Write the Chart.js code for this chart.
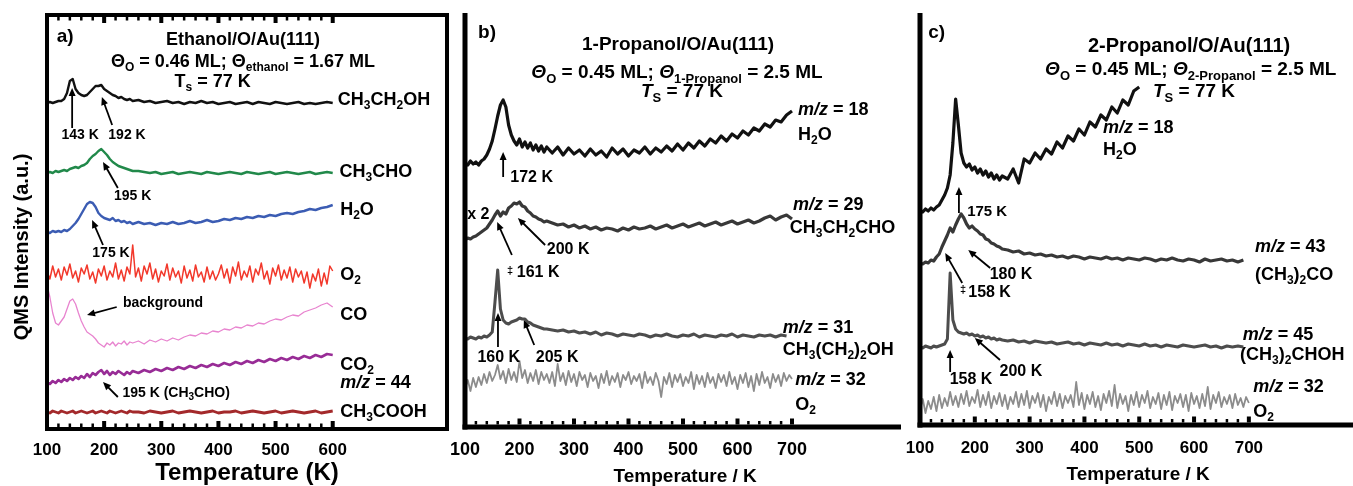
<!DOCTYPE html>
<html>
<head>
<meta charset="utf-8">
<script src="https://cdn.jsdelivr.net/npm/chart.js@4.4.1/dist/chart.umd.min.js"></script>
<style>
  body { margin: 0; background: #fff; width: 1353px; height: 486px; overflow: hidden; position: relative; }
  canvas { position: absolute; top: 0; }
  #ca { left: 0; }
  #cb { left: 450px; }
  #cc { left: 903px; }
</style>
</head>
<body>
<canvas id="ca" width="450" height="486"></canvas>
<canvas id="cb" width="453" height="486"></canvas>
<canvas id="cc" width="450" height="486"></canvas>
<script>
// temperatures (K)
const tempA = [100,105,110,115,120,125,130,135,140,145,150,155,160,165,170,175,180,185,190,195,200,205,210,215,220,225,230,235,240,245,250,
  260,270,280,290,300,310,320,330,340,350,360,370,380,390,400,410,420,430,440,450,460,470,480,490,500,510,520,530,540,550,560,570,580,590,600];
const tempBC = [100,105,110,115,120,125,130,135,140,145,150,155,160,165,170,175,180,185,190,195,200,205,210,215,220,225,230,235,240,245,250,
  260,270,280,290,300,310,320,330,340,350,360,370,380,390,400,410,420,430,440,450,460,470,480,490,500,
  510,520,530,540,550,560,570,580,590,600,610,620,630,640,650,660,670,680,690,700];
// finer grid for the noisy O2 traces
const tempA5 = [100,105,110,115,120,125,130,135,140,145,150,155,160,165,170,175,180,185,190,195,
  200,205,210,215,220,225,230,235,240,245,250,255,260,265,270,275,280,285,290,295,
  300,305,310,315,320,325,330,335,340,345,350,355,360,365,370,375,380,385,390,395,
  400,405,410,415,420,425,430,435,440,445,450,455,460,465,470,475,480,485,490,495,
  500,505,510,515,520,525,530,535,540,545,550,555,560,565,570,575,580,585,590,595,600];
const tempBC5 = [100,105,110,115,120,125,130,135,140,145,150,155,160,165,170,175,180,185,190,195,
  200,205,210,215,220,225,230,235,240,245,250,255,260,265,270,275,280,285,290,295,
  300,305,310,315,320,325,330,335,340,345,350,355,360,365,370,375,380,385,390,395,
  400,405,410,415,420,425,430,435,440,445,450,455,460,465,470,475,480,485,490,495,
  500,505,510,515,520,525,530,535,540,545,550,555,560,565,570,575,580,585,590,595,
  600,605,610,615,620,625,630,635,640,645,650,655,660,665,670,675,680,685,690,695,700];

// a) ethanol, offset traces (a.u.)
const ethanolA = [326,327,326,327,328,328,330,336,348,350,340,336,334,333,334,337,340,343,343,344,340,338,336,334,333,331,332,330,329,330,328,
  329,327,328,326,327,328,326,327,325,327,326,328,326,327,325,326,327,325,326,327,325,327,326,325,327,326,325,326,327,325,326,325,326,327,326];
const acetaldehydeA = [256,257,256,258,257,258,259,258,260,261,262,261,263,264,266,270,273,275,278,280,277,274,270,267,265,263,262,261,260,259,258,
  258,257,256,257,255,256,257,255,256,257,256,255,257,256,255,256,257,256,255,257,256,255,256,257,255,256,257,256,255,256,257,255,256,257,256];
const waterA = [197,196,198,197,198,197,199,198,200,203,206,210,215,220,225,227,226,222,216,213,211,210,209,211,208,209,207,208,206,207,205,
  207,205,206,204,206,205,207,205,206,208,206,207,209,207,208,210,209,211,210,212,211,213,212,214,213,215,216,215,217,218,220,219,221,222,224];
const oxygenA = [158,150,163,152,160,149,162,154,165,151, 158,147,161,155,164,150,157,146,160,153,
  163,149,158,152,166,150,159,148,162,155, 184,152,161,148,163,155,166,150,160,147,
  158,153,165,149,161,152,158,146,163,151, 159,148,164,152,157,147,162,150,158,149,
  155,164,151,160,146,162,153,167,149,158, 152,163,147,160,154,166,150,158,145,161,
  153,164,149,159,151,162,147,160,152,158, 146,157,141,155,148,160,143,156,145,163, 158];
const coA = [144,132,116,106,104,108,112,120,128,130,125,116,108,102,97,95,93,90,86,84,82,86,84,87,83,86,85,88,84,87,86,
  88,85,89,87,90,88,91,89,92,94,93,96,95,98,97,100,99,102,101,104,103,106,105,108,110,109,112,114,113,117,119,121,124,126,122];
const co2A = [47,45,48,46,49,47,50,48,51,49,52,50,53,51,55,52,56,54,57,59,55,58,54,57,55,58,56,54,57,55,58,
  56,59,57,60,58,61,59,62,60,63,61,64,62,65,63,66,64,67,65,68,66,69,67,70,68,71,69,72,70,73,71,74,72,75,74];
const aceticA = [17,16,18,17,16,18,17,16,17,18,16,17,18,17,16,17,18,16,17,18,17,16,18,17,16,17,18,17,16,18,17,
  17,16,18,17,16,17,18,16,17,18,17,16,17,18,16,17,17,18,16,17,18,17,16,17,18,16,17,18,17,16,17,18,16,17,18];

// b) 1-propanol
const waterB = [264,262,266,263,265,262,266,268,272,278,286,298,311,322,327,320,302,292,286,282,288,280,285,279,284,277,282,276,281,275,280,
  274,280,272,279,273,277,271,278,272,276,270,279,273,278,271,277,274,280,273,279,275,281,276,283,277,284,279,286,281,288,284,291,286,293,289,296,292,299,296,303,300,307,305,312,316];
const propanalB = [187,189,188,190,191,193,195,197,199,203,207,212,216,211,215,213,219,221,224,223,225,221,220,216,214,211,210,208,207,205,206,
  204,202,203,200,202,199,201,198,200,197,199,198,196,199,197,200,198,199,201,198,200,202,199,201,203,200,202,204,201,203,205,202,204,206,203,205,207,204,206,209,211,207,210,212,208];
const propanolB = [89,88,90,89,88,90,89,91,90,92,95,125,157,118,107,104,103,105,106,107,109,108,108,105,104,102,101,100,99,98,98,
  97,96,97,95,96,94,95,93,95,92,94,93,91,93,92,91,93,92,90,92,91,93,91,90,92,91,93,90,92,91,90,92,91,93,90,92,91,90,92,91,92,90,92,91,null];
const oxygenB = [38,47,36,49,40,50,42,53,44,55, 46,52,62,48,56,44,58,47,55,45,
  66,49,57,44,54,46,57,43,55,47, 53,44,55,41,63,46,54,42,56,45,
  53,41,55,47,52,40,54,46,51,39, 53,44,56,42,51,45,54,40,52,47,
  55,43,51,46,53,39,55,44,50,42, 54,46,30,50,43,54,40,52,45,53,
  41,50,44,55,38,52,43,51,40,54, 44,50,39,53,45,52,41,55,43,50,
  38,52,44,54,40,51,36,53,42,55, 44,50,39,53,45,52,41,54,46,52, 48];

// c) 2-propanol
const waterC = [215,213,216,214,217,215,218,220,225,230,237,250,282,326,300,272,262,258,261,255,258,252,256,250,254,248,252,246,250,245,249,
  246,256,242,266,262,272,266,276,271,283,277,289,284,296,290,303,298,310,305,318,312,325,320,334,338,
  null,null,null,null,null,null,null,null,null,null,null,null,null,null,null,null,null,null,null,null];
const acetoneC = [162,161,163,162,165,164,168,171,178,184,190,197,193,200,206,211,207,201,197,199,196,194,191,190,186,185,182,181,179,178,176,
  175,173,174,171,172,170,171,169,170,168,169,167,169,168,166,168,167,166,168,166,167,165,167,166,165,167,166,164,166,165,167,165,164,166,165,163,166,164,165,166,164,165,163,165,null];
const isopropanolC = [78,77,79,78,77,79,78,79,80,81,86,152,105,96,93,92,91,92,90,91,89,90,88,89,87,88,86,87,85,86,85,
  84,85,83,84,82,84,83,82,83,81,82,83,81,82,80,82,81,80,82,80,81,79,81,80,79,81,79,80,78,80,79,78,80,79,78,79,80,78,79,77,79,78,79,78,null];
const oxygenC = [15,26,12,24,16,28,14,30,17,27, 19,33,20,29,18,31,21,34,19,28,
  22,35,18,30,20,33,17,29,21,32, 19,30,16,28,21,33,18,31,20,34,
  17,29,22,32,18,30,14,28,21,33, 19,31,17,29,22,30,18,43,20,32,
  16,30,21,33,18,29,15,31,22,34, 19,40,17,31,21,29,14,30,20,33,
  18,30,22,34,17,28,21,32,16,30, 20,33,15,29,22,31,18,30,14,32,
  21,29,17,31,19,38,16,30,22,33, 18,28,21,30,17,31,20,27,18,28, 22];

// annotations: [text, temperature, intensity, font px, align]; _{..} subscript, *..* italic
const notesA = [
  ['a)', 117, 392, 19, 'left'],
  ['Ethanol/O/Au(111)', 443, 389, 18, 'center'],
  ['Θ_{O} = 0.46 ML; Θ_{ethanol} = 1.67 ML', 443, 367, 18, 'center'],
  ['T_{s} = 77 K', 390, 347, 18, 'center'],
  ['CH_{3}CH_{2}OH', 609, 329, 18, 'left'],
  ['143 K', 158, 294, 14, 'center'],
  ['192 K', 240, 294, 14, 'center'],
  ['CH_{3}CHO', 612, 257, 18, 'left'],
  ['195 K', 250, 233, 14, 'center'],
  ['H_{2}O', 613, 219, 18, 'left'],
  ['175 K', 212, 176, 14, 'center'],
  ['O_{2}', 613, 154, 18, 'left'],
  ['background', 303, 126, 14, 'center'],
  ['CO', 613, 114, 18, 'left'],
  ['CO_{2}', 613, 64, 18, 'left'],
  ['*m/z* = 44', 613, 46, 18, 'left'],
  ['195 K (CH_{3}CHO)', 326, 36, 14, 'center'],
  ['CH_{3}COOH', 613, 17, 18, 'left']
];
const arrowsA = [[144, 301, 144, 341], [214, 304, 196, 332], [224, 241, 198, 267], [198, 184, 179, 209], [222, 122, 170, 114], [224, 32, 198, 47]];

const notesB = [
  ['b)', 124, 394, 19, 'left'],
  ['1-Propanol/O/Au(111)', 491, 382, 19, 'center'],
  ['*Θ*_{O} = 0.45 ML; *Θ*_{1-Propanol} = 2.5 ML', 489, 354, 19, 'center'],
  ['*T*_{S} = 77 K', 498, 335, 19, 'center'],
  ['*m/z* = 18', 711, 317, 18, 'left'],
  ['H_{2}O', 711, 292, 18, 'left'],
  ['172 K', 183, 249, 16, 'left'],
  ['x 2', 104, 212, 16, 'left'],
  ['*m/z* = 29', 702, 222, 18, 'left'],
  ['CH_{3}CH_{2}CHO', 696, 199, 18, 'left'],
  ['200 K', 250, 177, 16, 'left'],
  ['‡', 177, 156, 11, 'left'],
  ['161 K', 195, 154, 16, 'left'],
  ['*m/z* = 31', 683, 99, 18, 'left'],
  ['CH_{3}(CH_{2})_{2}OH', 683, 77, 18, 'left'],
  ['160 K', 162, 69, 16, 'center'],
  ['205 K', 269, 69, 16, 'center'],
  ['*m/z* = 32', 706, 47, 18, 'left'],
  ['O_{2}', 706, 22, 18, 'left']
];
const arrowsB = [[170, 250, 170, 275], [247, 182, 197, 209], [186, 172, 159, 205], [160.5, 80, 160.5, 114], [227, 82, 208, 107]];

const notesC = [
  ['c)', 115, 392, 19, 'left'],
  ['2-Propanol/O/Au(111)', 591, 379, 20, 'center'],
  ['*Θ*_{O} = 0.45 ML; *Θ*_{2-Propanol} = 2.5 ML', 594, 355, 19, 'center'],
  ['*T*_{S} = 77 K', 600, 333, 19, 'center'],
  ['*m/z* = 18', 434, 297, 18, 'left'],
  ['H_{2}O', 434, 275, 18, 'left'],
  ['175 K', 186, 213, 15, 'left'],
  ['*m/z* = 43', 711, 178, 18, 'left'],
  ['(CH_{3})_{2}CO', 711, 150, 18, 'left'],
  ['180 K', 266, 150, 16, 'center'],
  ['‡', 173, 135, 11, 'left'],
  ['158 K', 188, 132, 16, 'left'],
  ['*m/z* = 45', 689, 90, 18, 'left'],
  ['(CH_{3})_{2}CHOH', 684, 70, 18, 'left'],
  ['158 K', 193, 45, 16, 'center'],
  ['200 K', 284, 53, 16, 'center'],
  ['*m/z* = 32', 708, 38, 18, 'left'],
  ['O_{2}', 708, 13, 18, 'left']
];
const arrowsC = [[171, 212, 171, 238], [228, 157, 188, 175], [177, 142, 146, 172], [155, 53, 155, 75], [246, 65, 200, 87]];

const FONT = '"Liberation Sans", Arial, sans-serif';

// split "CH_{3}*m*" style markup into runs
function runs(str) {
  const out = [];
  let buf = '', it = false, i = 0;
  while (i < str.length) {
    const c = str[i];
    if (c === '*') {
      if (buf) out.push({ t: buf, sub: false, it });
      buf = ''; it = !it; i++;
    } else if (c === '_' && str[i + 1] === '{') {
      if (buf) out.push({ t: buf, sub: false, it });
      buf = '';
      const j = str.indexOf('}', i);
      out.push({ t: str.slice(i + 2, j), sub: true, it: false });
      i = j + 1;
    } else {
      buf += c; i++;
    }
  }
  if (buf) out.push({ t: buf, sub: false, it });
  return out;
}

function drawRich(ctx, str, x, y, size, align) {
  const parts = runs(str);
  const fontOf = p => (p.it ? 'italic ' : '') + 'bold ' + (p.sub ? Math.round(size * 0.68) : size) + 'px ' + FONT;
  let w = 0;
  parts.forEach(p => { ctx.font = fontOf(p); p.w = ctx.measureText(p.t).width; w += p.w; });
  let cx = align === 'center' ? x - w / 2 : x;
  ctx.textAlign = 'left';
  ctx.textBaseline = 'middle';
  parts.forEach(p => {
    ctx.font = fontOf(p);
    ctx.fillText(p.t, cx, p.sub ? y + size * 0.32 : y);
    cx += p.w;
  });
}

function arrow(ctx, x1, y1, x2, y2) {
  const ang = Math.atan2(y2 - y1, x2 - x1);
  const hl = 8, hw = 3.5;
  ctx.lineWidth = 1.8;
  ctx.beginPath();
  ctx.moveTo(x1, y1);
  ctx.lineTo(x2 - Math.cos(ang) * hl * 0.8, y2 - Math.sin(ang) * hl * 0.8);
  ctx.stroke();
  ctx.beginPath();
  ctx.moveTo(x2, y2);
  ctx.lineTo(x2 - Math.cos(ang) * hl + Math.sin(ang) * hw, y2 - Math.sin(ang) * hl - Math.cos(ang) * hw);
  ctx.lineTo(x2 - Math.cos(ang) * hl - Math.sin(ang) * hw, y2 - Math.sin(ang) * hl + Math.cos(ang) * hw);
  ctx.closePath();
  ctx.fill();
}

// axes, ticks, labels and notes
function framePlugin(cfg) {
  return {
    id: 'frame',
    afterDatasetsDraw(chart) {
      const { ctx, chartArea: a, scales: { x, y } } = chart;
      const w = cfg.axisW;
      ctx.save();
      ctx.fillStyle = '#000';
      ctx.strokeStyle = '#000';
      ctx.fillRect(a.left - w / 2, a.top, w, a.bottom - a.top + w / 2);
      ctx.fillRect(a.left - w / 2, a.bottom - w / 2, a.right - a.left + w / 2, w);
      if (cfg.box) {
        ctx.fillRect(a.left - w / 2, a.top - w / 2, a.right - a.left + w, w);
        ctx.fillRect(a.right - w / 2, a.top - w / 2, w, a.bottom - a.top + w);
      }
      x.ticks.forEach(t => {
        if (t.value > cfg.lastTick) return;
        const px = x.getPixelForValue(t.value);
        const major = t.value % 100 === 0;
        const tw = major ? 4 : 2.5, th = major ? 6 : 3.5;
        ctx.fillRect(px - tw / 2, a.bottom - w / 2 - th, tw, th);
        if (cfg.box) ctx.fillRect(px - tw / 2, a.top + w / 2, tw, th);
        if (major) {
          ctx.font = 'bold ' + cfg.tickSize + 'px ' + FONT;
          ctx.textAlign = 'center';
          ctx.textBaseline = 'middle';
          ctx.fillText(String(t.value), px, cfg.tickY);
        }
      });
      cfg.notes.forEach(n => drawRich(ctx, n[0], x.getPixelForValue(n[1]), y.getPixelForValue(n[2]), n[3], n[4]));
      cfg.arrows.forEach(r => arrow(ctx, x.getPixelForValue(r[0]), y.getPixelForValue(r[1]), x.getPixelForValue(r[2]), y.getPixelForValue(r[3])));
      drawRich(ctx, cfg.xTitle[0], x.getPixelForValue(cfg.xTitle[1]), cfg.xTitle[2], cfg.xTitle[3], 'center');
      if (cfg.yTitle) {
        ctx.translate(cfg.yTitle[1], cfg.yTitle[2]);
        ctx.rotate(-Math.PI / 2);
        drawRich(ctx, cfg.yTitle[0], 0, 0, cfg.yTitle[3], 'center');
      }
      ctx.restore();
    }
  };
}

function series(t, v, color, width) {
  return {
    data: t.map((x, i) => ({ x: x, y: v[i] })),
    borderColor: color,
    borderWidth: width,
    pointRadius: 0,
    tension: 0,
    borderJoinStyle: 'round',
    spanGaps: false
  };
}

function makeChart(id, datasets, cfg) {
  return new Chart(document.getElementById(id), {
    type: 'line',
    data: { datasets: datasets },
    options: {
      responsive: false,
      animation: false,
      events: [],
      layout: { padding: { top: cfg.top, right: cfg.right, left: 0, bottom: 0 } },
      plugins: { legend: { display: false }, tooltip: { enabled: false } },
      scales: {
        x: {
          type: 'linear', min: 100, max: cfg.xmax,
          ticks: { stepSize: 20, display: false },
          grid: { display: false, drawTicks: false },
          border: { display: false },
          afterFit: s => { s.height = cfg.xh; }
        },
        y: {
          min: 0, max: cfg.ymax,
          ticks: { display: false },
          grid: { display: false, drawTicks: false },
          border: { display: false },
          afterFit: s => { s.width = cfg.yw; }
        }
      }
    },
    plugins: [framePlugin(cfg)]
  });
}

makeChart('ca', [
  series(tempA, ethanolA, '#111111', 2.4),
  series(tempA, acetaldehydeA, '#21894a', 2.4),
  series(tempA, waterA, '#3b5cb3', 2.4),
  series(tempA5, oxygenA, '#f2382b', 1.5),
  series(tempA, coA, '#e884cf', 1.3),
  series(tempA, co2A, '#982c96', 2.6),
  series(tempA, aceticA, '#a3292b', 2.8)
], {
  top: 15, right: 3, xh: 57, yw: 47, xmax: 800, ymax: 414, axisW: 4, box: true, lastTick: 600,
  tickSize: 17, tickY: 450, notes: notesA, arrows: arrowsA,
  xTitle: ['Temperature (K)', 450, 473, 24],
  yTitle: ['QMS Intensity (a.u.)', 22, 247, 20]
});

makeChart('cb', [
  series(tempBC, waterB, '#111111', 3.2),
  series(tempBC, propanalB, '#383838', 3.2),
  series(tempBC, propanolB, '#4d4d4d', 3),
  series(tempBC5, oxygenB, '#8c8c8c', 1.8)
], {
  top: 13, right: 2, xh: 59, yw: 15, xmax: 900, ymax: 414, axisW: 5, box: false, lastTick: 700,
  tickSize: 18, tickY: 450, notes: notesB, arrows: arrowsB,
  xTitle: ['Temperature / K', 504, 477, 19]
});

makeChart('cc', [
  series(tempBC, waterC, '#111111', 3.2),
  series(tempBC, acetoneC, '#383838', 3.2),
  series(tempBC, isopropanolC, '#4d4d4d', 3),
  series(tempBC5, oxygenC, '#8c8c8c', 1.8)
], {
  top: 13, right: 0, xh: 61, yw: 17, xmax: 890, ymax: 412, axisW: 5, box: false, lastTick: 700,
  tickSize: 17, tickY: 448, notes: notesC, arrows: arrowsC,
  xTitle: ['Temperature / K', 498, 475, 19]
});
</script>
</body>
</html>
